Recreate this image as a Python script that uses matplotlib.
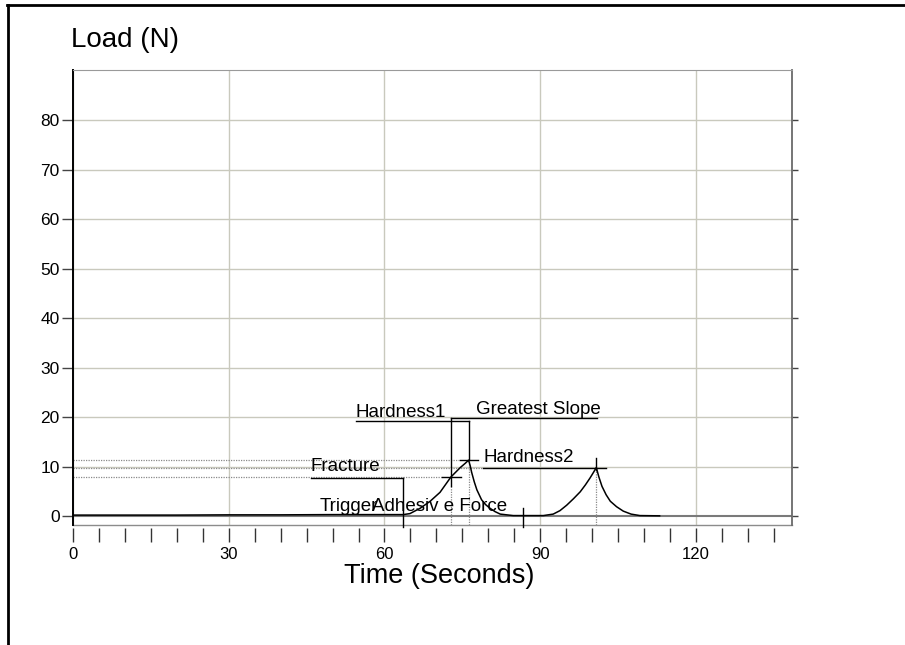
import matplotlib
matplotlib.use("Agg")
import matplotlib.pyplot as plt
from matplotlib.lines import Line2D
from matplotlib.ticker import MultipleLocator

plt.rcParams['font.family'] = ['Liberation Sans', 'DejaVu Sans']

# load trace read from the texture analyser export
time_s = [0, 10, 20, 30, 40, 50, 60, 63.6, 64.9, 66.9, 68.8, 70.7, 72.8, 74.6,
          75.6, 76.2, 76.5, 76.8, 77.3, 77.8, 78.7, 79.5, 80.3, 81.3, 82.3, 84.8,
          88.0, 90.6, 92.5, 93.8, 95.1, 96.4, 97.7, 98.7, 99.6, 100.3, 100.8,
          101.3, 101.9, 102.7, 103.5, 104.7, 106.0, 107.5, 109.2, 113.0]
load_n = [0.2, 0.2, 0.2, 0.25, 0.25, 0.3, 0.3, 0.3, 0.5, 1.6, 3.0, 4.8, 7.9, 9.8,
          10.7, 11.3, 10.2, 8.8, 6.9, 5.3, 3.3, 2.3, 1.6, 0.9, 0.4, 0.1,
          0.1, 0.1, 0.4, 1.1, 2.2, 3.5, 4.9, 6.3, 7.7, 8.9, 9.8,
          7.9, 6.0, 4.3, 3.0, 1.9, 1.0, 0.4, 0.1, 0.05]

x_major = [0, 30, 60, 90, 120]
y_major = [0, 10, 20, 30, 40, 50, 60, 70, 80]

# analysis markers: (time, load)
trigger = (63.6, 0.3)
fracture_level = 7.7
slope_pt = (72.8, 7.9)
hard1_pt = (76.2, 11.3)
adhesive_t = 86.7
hard2_pt = (100.8, 9.8)
hard1_level = 19.2
slope_level = 19.8

fig = plt.figure(figsize=(9.05, 6.45), dpi=100)
ax = fig.add_axes([73/905, 1 - 525/645, (792 - 73)/905, (525 - 70)/645])
ax.set_xlim(0, 138.5)
ax.set_ylim(-1.8, 90.1)

grid_c = '#c9c9bd'
for v in x_major:
    ax.axvline(v, color=grid_c, lw=1, zorder=0)
for v in y_major[1:]:
    ax.axhline(v, color=grid_c, lw=1, zorder=0)
ax.axhline(0, color='#7a7a7a', lw=1.5, zorder=0)

# dotted guides back to the load axis
dot = dict(color='#8a8a8a', lw=0.9, ls=(0, (1, 1)), zorder=1)
ax.plot([0, hard1_pt[0] - 1.6], [hard1_pt[1], hard1_pt[1]], **dot)
ax.plot([0, slope_pt[0] - 1.7], [slope_pt[1], slope_pt[1]], **dot)
ax.plot([0, 79.0], [hard2_pt[1], hard2_pt[1]], **dot)
ax.plot([slope_pt[0], slope_pt[0]], [-1.8, 6.0], **dot)
ax.plot([hard1_pt[0], hard1_pt[0]], [-1.8, hard1_pt[1]], **dot)
ax.plot([hard2_pt[0], hard2_pt[0]], [-1.8, hard2_pt[1]], **dot)

ax.plot(time_s, load_n, color='black', lw=1.1, zorder=3)

ln = dict(color='black', lw=1, zorder=4, clip_on=False)
# Hardness1
ax.plot([54.5, hard1_pt[0]], [hard1_level, hard1_level], **ln)
ax.plot([hard1_pt[0], hard1_pt[0]], [hard1_level, hard1_pt[1]], **ln)
ax.plot([hard1_pt[0] - 1.6, hard1_pt[0] + 1.8], [hard1_pt[1], hard1_pt[1]], **ln)
# Greatest Slope
ax.plot([slope_pt[0], 101.0], [slope_level, slope_level], **ln)
ax.plot([slope_pt[0], slope_pt[0]], [slope_level, 6.0], **ln)
ax.plot([slope_pt[0] - 1.7, slope_pt[0] + 1.9], [slope_pt[1], slope_pt[1]], **ln)
# Hardness2
ax.plot([79.0, 102.7], [hard2_pt[1], hard2_pt[1]], **ln)
ax.plot([hard2_pt[0], hard2_pt[0]], [hard2_pt[1] + 1.9, hard2_pt[1] - 0.5], **ln)
# Fracture / Trigger
ax.plot([45.8, trigger[0]], [fracture_level, fracture_level], **ln)
ax.plot([trigger[0], trigger[0]], [fracture_level, -2.2], **ln)
# Adhesive Force
ax.plot([adhesive_t, adhesive_t], [1.7, -2.2], **ln)

fs = 13.5
ax.text(54.5, 21.0, 'Hardness1', fontsize=fs, va='center', ha='left')
ax.text(77.6, 21.6, 'Greatest Slope', fontsize=fs, va='center', ha='left')
ax.text(79.0, 11.8, 'Hardness2', fontsize=fs, va='center', ha='left')
ax.text(45.7, 10.0, 'Fracture', fontsize=fs, va='center', ha='left')
ax.text(47.6, 1.9, 'Trigger', fontsize=fs, va='center', ha='left')
ax.text(57.6, 1.9, 'Adhesiv e Force', fontsize=fs, va='center', ha='left')

# frame
ax.spines['left'].set_color('black')
ax.spines['left'].set_linewidth(1.4)
ax.spines['top'].set_color('#9a9a9a')
ax.spines['right'].set_color('#6a6a6a')
ax.spines['right'].set_linewidth(1.3)
ax.spines['bottom'].set_position(('outward', 2.5))
ax.spines['bottom'].set_color('none')
ax.plot([0, 1], [0, 0], transform=ax.transAxes, color='#8c8c8c', lw=1, clip_on=False)

ax.set_xticks(x_major)
ax.xaxis.set_minor_locator(MultipleLocator(5))
ax.tick_params(axis='x', which='both', direction='out', length=10, width=1,
               color='#333333', labelsize=12, pad=3)
ax.set_yticks(y_major)
ax.tick_params(axis='y', which='major', direction='out', length=8, width=1,
               color='#444444', labelsize=12.5, pad=1.5, right=True)
for t in ax.yaxis.get_major_ticks():
    t.tick2line.set_color(grid_c)
    t.tick2line.set_markersize(4.5)

fig.text(71/905, 1 - 40/645, 'Load (N)', fontsize=20, va='center', ha='left')
fig.text(439/905, 1 - 576/645, 'Time (Seconds)', fontsize=19.5, va='center', ha='center')

# page border
fig.add_artist(Line2D([7/905, 1], [1 - 4.5/645, 1 - 4.5/645], color='black', lw=2,
                     transform=fig.transFigure))
fig.add_artist(Line2D([7.5/905, 7.5/905], [0, 1 - 4.5/645], color='black', lw=2,
                     transform=fig.transFigure))

fig.savefig('out.png', dpi=100)
